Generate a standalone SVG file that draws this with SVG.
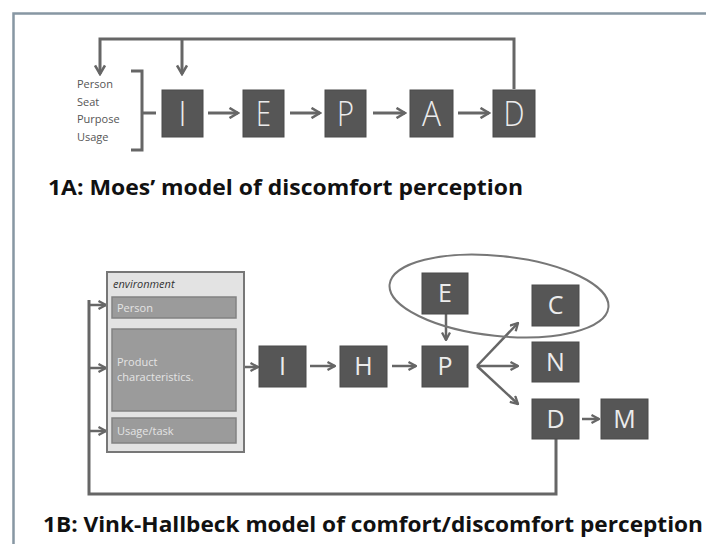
<svg xmlns="http://www.w3.org/2000/svg" width="706" height="544" viewBox="0 0 706 544">
<style>
.frame{fill:none;stroke:#8797a3;stroke-width:2.5}
.box{fill:#565656;stroke:#4a4a4a;stroke-width:1}
.lt{font-family:"Open Sans","Liberation Sans",sans-serif;font-weight:300;fill:#ececec;text-anchor:middle}
.big{font-size:35px}
.mid{font-size:25px;font-weight:400}
.con{fill:none;stroke:#666;stroke-width:3}
.conb{fill:none;stroke:#666;stroke-width:2.5}
.title{font-family:"Open Sans","Liberation Sans",sans-serif;font-weight:700;font-size:22px;fill:#111}
.lab{font-family:"Open Sans","Liberation Sans",sans-serif;font-size:11px;fill:#555}
.env{fill:#e3e3e3;stroke:#777;stroke-width:2}
.bar{fill:#9b9b9b;stroke:#828282;stroke-width:1.5}
.bt{font-family:"Open Sans","Liberation Sans",sans-serif;font-size:11px;fill:#e4e4e4}
.ell{fill:none;stroke:#777;stroke-width:2}
</style>
<defs>
<marker id="ah" viewBox="0 0 12 12" refX="10.5" refY="6" markerWidth="12" markerHeight="12" markerUnits="userSpaceOnUse" orient="auto">
<path d="M2,1 L10.5,6 L2,11" fill="none" stroke="#666" stroke-width="2.6"/>
</marker>
<marker id="as" viewBox="0 0 10 10" refX="9" refY="5" markerWidth="10" markerHeight="10" markerUnits="userSpaceOnUse" orient="auto">
<path d="M1.5,1 L9,5 L1.5,9" fill="none" stroke="#666" stroke-width="2.3"/>
</marker>
</defs>
<rect width="706" height="544" fill="#fff"/>
<rect class="frame" x="13.5" y="13.5" width="800" height="600"/>

<g id="connectors">
<polyline class="con" points="514,89 514,39 100,39 100,74" marker-end="url(#ah)"/>
<polyline class="con" points="182,39 182,74" marker-end="url(#ah)"/>
<polyline class="con" points="131,71 142,71 142,150 131,150"/>
<line class="con" x1="142" y1="113" x2="156" y2="113"/>
<line class="con" x1="208" y1="113" x2="238" y2="113" marker-end="url(#ah)"/>
<line class="con" x1="290" y1="113" x2="320" y2="113" marker-end="url(#ah)"/>
<line class="con" x1="373" y1="113" x2="405" y2="113" marker-end="url(#ah)"/>
<line class="con" x1="458" y1="113" x2="489" y2="113" marker-end="url(#ah)"/>
<polyline class="con" points="556,439 556,494 89,494 89,300"/>
<line class="conb" x1="89" y1="305" x2="106" y2="305" marker-end="url(#as)"/>
<line class="conb" x1="89" y1="368" x2="106" y2="368" marker-end="url(#as)"/>
<line class="conb" x1="89" y1="431" x2="106" y2="431" marker-end="url(#as)"/>
<line class="conb" x1="244" y1="367" x2="258" y2="367" marker-end="url(#as)"/>
<line class="conb" x1="310" y1="366" x2="335" y2="366" marker-end="url(#as)"/>
<line class="conb" x1="392" y1="366" x2="416" y2="366" marker-end="url(#as)"/>
<line class="conb" x1="446" y1="314" x2="446" y2="340" marker-end="url(#as)"/>
<line class="conb" x1="477" y1="366" x2="518" y2="366" marker-end="url(#as)"/>
<line class="conb" x1="477" y1="366" x2="518" y2="323" marker-end="url(#as)"/>
<line class="conb" x1="477" y1="366" x2="518" y2="404" marker-end="url(#as)"/>
<line class="conb" x1="582" y1="419" x2="599" y2="419" marker-end="url(#as)"/>
</g>

<g id="inputs1A">
<text class="lab" x="77" y="88">Person</text>
<text class="lab" x="77" y="106">Seat</text>
<text class="lab" x="77" y="123">Purpose</text>
<text class="lab" x="77" y="141">Usage</text>
</g>
<g id="A_I"><rect class="box" x="162" y="90" width="41" height="47"/><text class="lt big" x="182.5" y="126" textLength="8" lengthAdjust="spacingAndGlyphs">I</text></g>
<g id="A_E"><rect class="box" x="243" y="90" width="41" height="47"/><text class="lt big" x="263.5" y="126" textLength="15" lengthAdjust="spacingAndGlyphs">E</text></g>
<g id="A_P"><rect class="box" x="325" y="90" width="41" height="47"/><text class="lt big" x="345.5" y="126" textLength="17" lengthAdjust="spacingAndGlyphs">P</text></g>
<g id="A_A"><rect class="box" x="410" y="90" width="43" height="47"/><text class="lt big" x="431.5" y="126" textLength="19" lengthAdjust="spacingAndGlyphs">A</text></g>
<g id="A_D"><rect class="box" x="493" y="90" width="42" height="47"/><text class="lt big" x="514" y="126" textLength="21" lengthAdjust="spacingAndGlyphs">D</text></g>

<text class="title" x="48" y="195" textLength="475" lengthAdjust="spacingAndGlyphs">1A: Moes’ model of discomfort perception</text>

<g id="environment">
<rect class="env" x="107" y="272" width="137" height="180"/>
<text x="113" y="288" font-family="Open Sans, Liberation Sans, sans-serif" font-size="11" font-style="italic" fill="#333">environment</text>
<rect class="bar" x="112" y="297" width="124" height="21"/>
<text class="bt" x="117" y="312">Person</text>
<rect class="bar" x="112" y="329" width="124" height="82"/>
<text class="bt" x="117" y="366">Product</text>
<text class="bt" x="117" y="381">characteristics.</text>
<rect class="bar" x="112" y="418" width="124" height="25"/>
<text class="bt" x="117" y="435">Usage/task</text>
</g>
<g id="B_I"><rect class="box" x="259" y="346" width="47" height="41"/><text class="lt mid" x="282.5" y="375">I</text></g>
<g id="B_H"><rect class="box" x="340" y="346" width="47" height="41"/><text class="lt mid" x="363.5" y="375">H</text></g>
<g id="B_P"><rect class="box" x="422" y="346" width="46" height="41"/><text class="lt mid" x="445" y="375">P</text></g>
<g id="B_E"><rect class="box" x="422" y="273" width="46" height="41"/><text class="lt mid" x="445" y="302">E</text></g>
<g id="B_C"><rect class="box" x="532" y="285" width="47" height="41"/><text class="lt mid" x="555.5" y="314">C</text></g>
<g id="B_N"><rect class="box" x="532" y="342" width="47" height="40"/><text class="lt mid" x="555.5" y="371">N</text></g>
<g id="B_D"><rect class="box" x="532" y="399" width="47" height="40"/><text class="lt mid" x="555.5" y="428">D</text></g>
<g id="B_M"><rect class="box" x="601" y="399" width="47" height="40"/><text class="lt mid" x="624.5" y="428">M</text></g>
<g id="ellipse"><ellipse class="ell" cx="499" cy="296" rx="110" ry="40" transform="rotate(6 499 296)"/></g>

<text class="title" x="43" y="532" textLength="660" lengthAdjust="spacingAndGlyphs">1B: Vink-Hallbeck model of comfort/discomfort perception</text>
</svg>
